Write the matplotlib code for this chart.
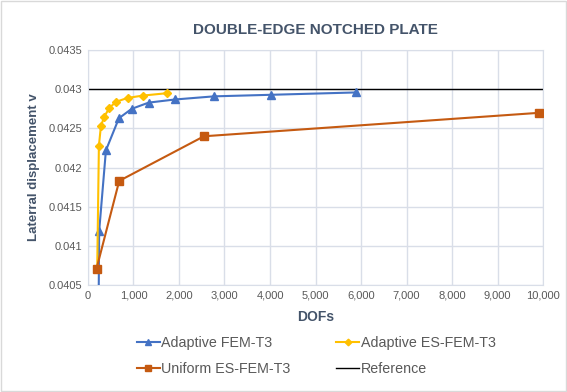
import matplotlib
matplotlib.use("Agg")
import matplotlib.pyplot as plt
from matplotlib.ticker import FuncFormatter, MultipleLocator

plt.rcParams['font.family'] = ['Liberation Sans', 'DejaVu Sans']

# data
fem_dofs = [230, 248, 396, 681, 960, 1334, 1912, 2769, 4022, 5890]
fem_v = [0.0398, 0.04119, 0.04222, 0.04263, 0.04275, 0.04283, 0.04287, 0.04291, 0.04293, 0.04296]

es_dofs = [205, 242, 286, 359, 469, 615, 872, 1209, 1729]
es_v = [0.04072, 0.04228, 0.04253, 0.04265, 0.04276, 0.04284, 0.04289, 0.04292, 0.04295]

uni_dofs = [191, 688, 2549, 9919]
uni_v = [0.04071, 0.04183, 0.04240, 0.04270]

ref_x = [0, 10000]
ref_v = [0.0430, 0.0430]

fig = plt.figure(figsize=(5.67, 3.92), dpi=100)
ax = fig.add_axes([0.155, 0.273, 0.803, 0.599])

l1, = ax.plot(fem_dofs, fem_v, color='#4472C4', marker='^', ms=6, lw=1.5, label='Adaptive FEM-T3', zorder=3)
l2, = ax.plot(es_dofs, es_v, color='#FFC000', marker='D', ms=4.5, lw=1.5, label='Adaptive ES-FEM-T3', zorder=3)
l3, = ax.plot(uni_dofs, uni_v, color='#C55A11', marker='s', ms=6, lw=1.5, label='Uniform ES-FEM-T3', zorder=4)
l4, = ax.plot(ref_x, ref_v, color='black', lw=1.0, label='Reference', zorder=2)

ax.set_xlim(0, 10000)
ax.set_ylim(0.0405, 0.0435)
ax.xaxis.set_major_locator(MultipleLocator(1000))
ax.yaxis.set_major_locator(MultipleLocator(0.0005))
ax.xaxis.set_major_formatter(FuncFormatter(lambda v, p: f"{int(v):,}"))
ax.yaxis.set_major_formatter(FuncFormatter(lambda v, p: f"{v:.4f}".rstrip('0')))

ax.grid(True, color='#D9DEE8', lw=1.0)
ax.set_axisbelow(True)
for s in ax.spines.values():
    s.set_color('#D9DEE8')
ax.tick_params(length=0, labelsize=8, colors='#595959', pad=4)

ax.set_title('DOUBLE-EDGE NOTCHED PLATE', fontsize=11, fontweight='bold', color='#44546A', pad=12)
ax.set_xlabel('DOFs', fontsize=10, fontweight='bold', color='#44546A', labelpad=7)
ax.set_ylabel('Laterral displacement v', fontsize=9.5, fontweight='bold', color='#44546A', labelpad=6)

# column-wise fill: order so rows read FEM | ES, Uniform | Reference
fig.legend([l1, l3, l2, l4], [l.get_label() for l in (l1, l3, l2, l4)],
           loc='center', bbox_to_anchor=(0.558, 0.092), ncol=2, frameon=False,
           fontsize=10.3, labelcolor='#595959', handlelength=1.6, handletextpad=0.1,
           columnspacing=3.2, labelspacing=0.85, markerscale=0.75)

border = plt.Rectangle((0.002, 0.002), 0.996, 0.996, transform=fig.transFigure,
                       fill=False, edgecolor='#D9D9D9', lw=1)
fig.patches.append(border)

fig.savefig('out.png', dpi=100)
